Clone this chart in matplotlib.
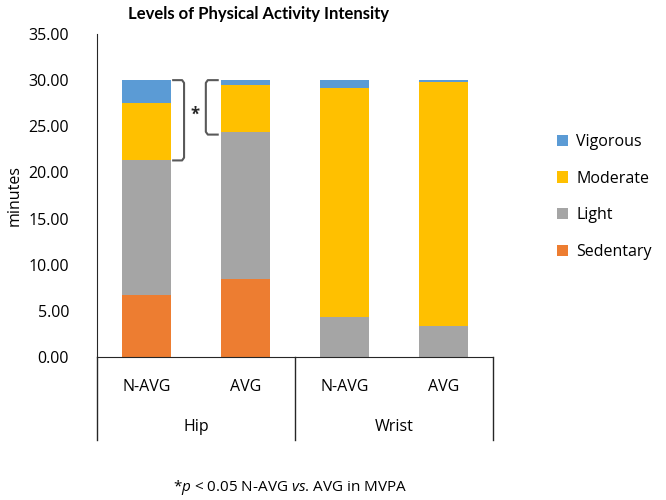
import numpy as np
import matplotlib.pyplot as plt

plt.rcParams['font.family'] = ['Open Sans', 'DejaVu Sans']
plt.rcParams['mathtext.fontset'] = 'custom'
plt.rcParams['mathtext.rm'] = 'Open Sans'
plt.rcParams['mathtext.it'] = 'Open Sans:italic'

groups = ["Hip", "Wrist"]
subgroups = ["N-AVG", "AVG", "N-AVG", "AVG"]
levels = ["Sedentary", "Light", "Moderate", "Vigorous"]
sedentary = [6.7, 8.45, 0.0, 0.0]
light = [14.6, 15.95, 4.3, 3.36]
moderate = [6.2, 5.1, 24.9, 26.44]
vigorous = [2.5, 0.5, 0.8, 0.2]
colors = ["#ED7D31", "#A5A5A5", "#FFC000", "#5B9BD5"]

fig = plt.figure(figsize=(6.66, 5.0), dpi=100)
ax = fig.add_axes([0.1456, 0.286, 0.5944, 0.646])

x = np.arange(len(subgroups))
bottom = np.zeros(len(subgroups))
for name, vals, c in zip(levels, [sedentary, light, moderate, vigorous], colors):
    ax.bar(x, vals, 0.5, bottom=bottom, color=c, label=name, zorder=2)
    bottom += np.array(vals)

ax.set_xlim(-0.5, 3.5)
ax.set_ylim(0, 35)
ax.set_yticks(np.arange(0, 36, 5))
ax.set_yticklabels([f"{v:.2f}" for v in np.arange(0, 36, 5)], fontsize=11.5)
ax.tick_params(axis='y', length=0, pad=20)
ax.set_xticks(x)
ax.set_xticklabels(subgroups, fontsize=11.5)
ax.tick_params(axis='x', length=0, pad=16)
for s in ['top', 'right']:
    ax.spines[s].set_visible(False)
ax.spines['left'].set_color('#262626')
ax.spines['bottom'].set_color('#262626')
ax.set_ylabel("minutes", fontsize=11.5, labelpad=4)
ax.set_title("Levels of Physical Activity Intensity", fontsize=12,
             fontweight='bold', x=0.407, pad=11, family=['Lato', 'DejaVu Sans'])

# category group separators
tr = ax.get_xaxis_transform()
for xs in [-0.5, 1.5, 3.5]:
    ax.plot([xs, xs], [0, -0.257], color='#262626', lw=1, transform=tr,
            clip_on=False)
for i, g in enumerate(groups):
    ax.text(2 * i + 0.5, -0.217, g, transform=tr, ha='center', va='center',
            fontsize=11.5)

# significance brackets over MVPA (moderate + vigorous)
mv_lo0 = sedentary[0] + light[0]
mv_lo1 = sedentary[1] + light[1] - 0.3
top0 = mv_lo0 + moderate[0] + vigorous[0]
top1 = sedentary[1] + light[1] + moderate[1] + vigorous[1]
bc = '#595959'
ax.plot([0.27, 0.36, 0.38, 0.38, 0.36, 0.27],
        [top0, top0, top0 - 0.3, mv_lo0 + 0.3, mv_lo0, mv_lo0],
        color=bc, lw=1.5, clip_on=False)
ax.plot([0.72, 0.62, 0.60, 0.60, 0.62, 0.72],
        [top1, top1, top1 - 0.3, mv_lo1 + 0.3, mv_lo1, mv_lo1],
        color=bc, lw=1.5, clip_on=False)
ax.text(0.49, 26.2, "*", ha='center', va='center', fontsize=12,
        fontweight='bold', color='#262626')

handles, labels = ax.get_legend_handles_labels()
fig.legend(handles[::-1], labels[::-1], loc='center left',
           bbox_to_anchor=(0.815, 0.606), frameon=False, fontsize=11.5,
           handlelength=0.7, handleheight=0.7, handletextpad=0.5,
           labelspacing=1.3)

fig.text(0.435, 0.025, r"*$p$ < 0.05 N-AVG $\mathit{vs}$. AVG in MVPA",
         ha='center', va='center', fontsize=11)

fig.savefig("out.png", dpi=100)
